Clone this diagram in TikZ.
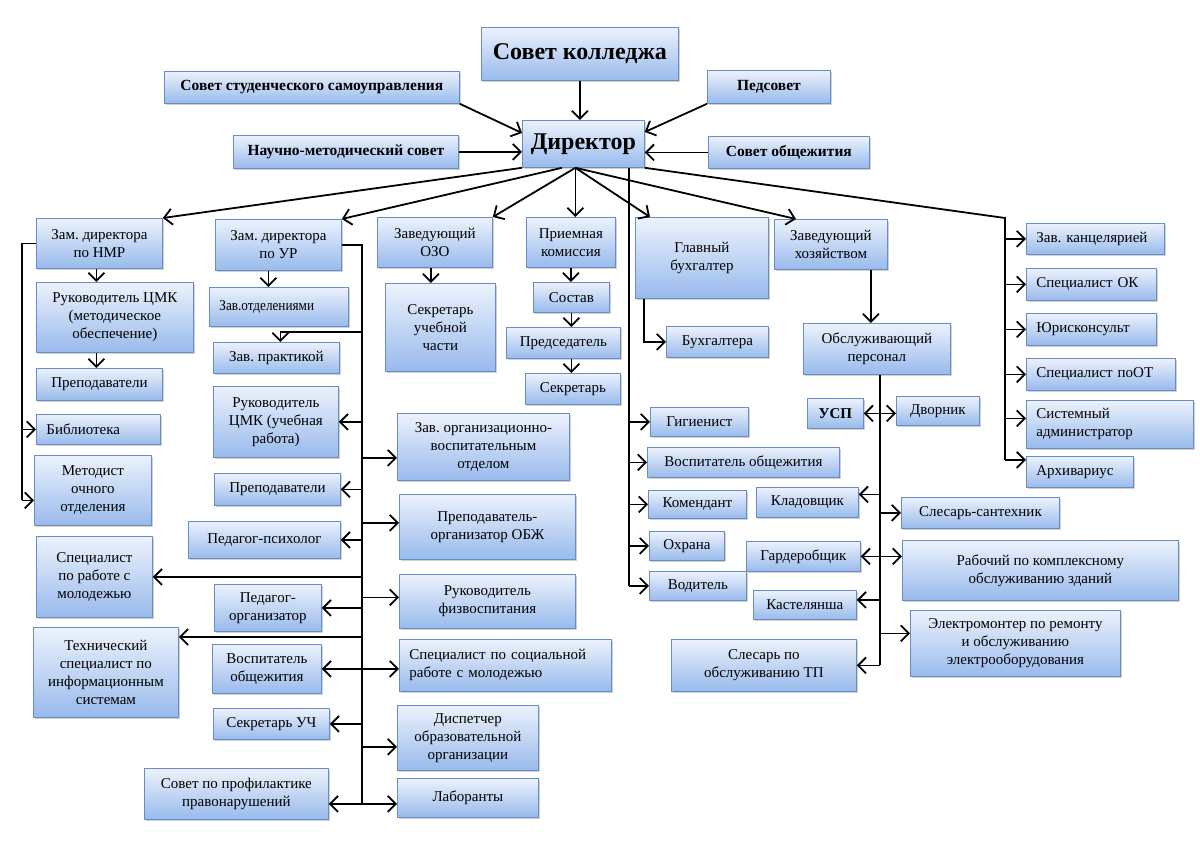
\documentclass[tikz,border=0pt]{standalone}
\usepackage{fontspec}
\setmainfont{Liberation Serif}
\usepackage{graphicx}
\usepackage{tikz}
\usetikzlibrary{arrows.meta,shadows}
\frenchspacing

\definecolor{boxtop}{RGB}{236,242,252}
\definecolor{boxbot}{RGB}{152,186,236}
\definecolor{boxline}{RGB}{105,140,195}

\begin{document}
\begin{tikzpicture}[
    x=1pt, y=-1pt,
    box/.style={rectangle, draw=boxline, line width=0.8pt, top color=boxtop, bottom color=boxbot, anchor=north west, align=center, inner sep=2pt, font=\fontsize{15}{18}\selectfont, drop shadow={shadow xshift=1.5pt, shadow yshift=-1.5pt, opacity=0.35}},
    lbox/.style={box, align=left, inner xsep=10pt},
    head/.style={box, font=\bfseries\fontsize{15.5}{18}\selectfont},
    big/.style={box, font=\bfseries\fontsize{24}{28}\selectfont},
    link/.style={line width=1.8pt},
    arrow/.style={link, -{Straight Barb[length=8pt, width=16pt]}},
    darrow/.style={link, {Straight Barb[length=8pt, width=16pt]}-{Straight Barb[length=8pt, width=16pt]}}
]
    \path[use as bounding box, fill=white] (0,0) rectangle (1200,849);

    % Top
    \node[big, minimum width=197, minimum height=53] (kolledzh) at (481,27) {Совет колледжа};
    \node[head, minimum width=295, minimum height=32] (stud) at (164,71) {Совет студенческого самоуправления};
    \node[head, minimum width=123, minimum height=33] (pedsovet) at (707,70) {Педсовет};
    \node[head, minimum width=225, minimum height=33] (nms) at (233,135) {Научно-методический совет};
    \node[big, minimum width=122, minimum height=47] (director) at (522,120) {Директор};
    \node[head, minimum width=161, minimum height=32] (obshch) at (708,136) {Совет общежития};

    % Second level
    \node[box, minimum width=126, minimum height=50] (nmr) at (36,218) {Зам. директора\\по НМР};
    \node[box, minimum width=126, minimum height=51] (ur) at (215,219) {Зам. директора\\по УР};
    \node[box, minimum width=115, minimum height=50] (ozo) at (377,217) {Заведующий\\ОЗО};
    \node[box, minimum width=89, minimum height=50] (priem) at (526,217) {Приемная\\комиссия};
    \node[box, minimum width=133, minimum height=81] (buh) at (635,217) {Главный\\бухгалтер};
    \node[box, minimum width=113, minimum height=50] (hoz) at (774,219) {Заведующий\\хозяйством};

    % NMR column
    \node[box, minimum width=157, minimum height=70] (cmkm) at (36,282) {Руководитель ЦМК\\(методическое\\обеспечение)};
    \node[box, minimum width=126, minimum height=32] (prepn) at (36,368) {Преподаватели};
    \node[lbox, text width=104, minimum height=30] (bibl) at (36,414) {Библиотека};
    \node[box, minimum width=117, minimum height=70] (metod) at (34,455) {Методист\\очного\\отделения};
    \node[box, minimum width=116, minimum height=81] (spmol) at (36,536) {Специалист\\по работе с\\молодежью};
    \node[box, minimum width=145, minimum height=90] (tech) at (33,627) {Технический\\специалист по\\информационным\\системам};

    % UR column
    \node[lbox, text width=119, minimum height=39] (zavotd) at (209,287) {\scalebox{0.88}[1]{Зав.отделениями}};
    \node[box, minimum width=126, minimum height=31] (zavpr) at (213,342) {Зав. практикой};
    \node[box, minimum width=125, minimum height=71] (cmku) at (213,386) {Руководитель\\ЦМК (учебная\\работа)};
    \node[box, minimum width=126, minimum height=32] (prepu) at (214,473) {Преподаватели};
    \node[box, minimum width=152, minimum height=37] (psych) at (188,521) {Педагог-психолог};
    \node[box, minimum width=107, minimum height=47] (pedorg) at (214,584) {Педагог-\\организатор};
    \node[box, minimum width=109, minimum height=49] (vosp) at (212,644) {Воспитатель\\общежития};
    \node[box, minimum width=116, minimum height=31] (sekruch) at (213,708) {Секретарь УЧ};
    \node[box, minimum width=184, minimum height=51] (sovprof) at (144,768) {Совет по профилактике\\правонарушений};

    \node[box, minimum width=172, minimum height=67] (orgvosp) at (397,413) {Зав. организационно-\\воспитательным\\отделом};
    \node[box, minimum width=176, minimum height=65] (obzh) at (399,494) {Преподаватель-\\организатор ОБЖ};
    \node[box, minimum width=176, minimum height=54] (fizv) at (399,574) {Руководитель\\физвоспитания};
    \node[lbox, text width=192, minimum height=52] (socr) at (399,639) {\mbox{Специалист по социальной}\\\mbox{работе с молодежью}};
    \node[box, minimum width=141, minimum height=65] (disp) at (397,705) {Диспетчер\\образовательной\\организации};
    \node[box, minimum width=141, minimum height=39] (lab) at (397,778) {Лаборанты};

    % Middle
    \node[box, minimum width=110, minimum height=88] (sekrch) at (385,283) {Секретарь\\учебной\\части};
    \node[box, minimum width=76, minimum height=30] (sostav) at (533,282) {Состав};
    \node[box, minimum width=114, minimum height=31] (pred) at (506,327) {Председатель};
    \node[box, minimum width=95, minimum height=31] (sekr) at (525,373) {Секретарь};
    \node[box, minimum width=102, minimum height=31] (buhs) at (666,326) {Бухгалтера};
    \node[box, minimum width=98, minimum height=29] (gig) at (650,407) {Гигиенист};
    \node[box, minimum width=192, minimum height=30] (vospo) at (647,447) {Воспитатель общежития};
    \node[box, minimum width=98, minimum height=28] (kom) at (648,490) {Комендант};
    \node[box, minimum width=75, minimum height=29] (ohr) at (649,531) {Охрана};
    \node[box, minimum width=97, minimum height=29] (vod) at (649,571) {Водитель};

    % Hoz column
    \node[box, minimum width=147, minimum height=51] (obsl) at (803,323) {Обслуживающий\\персонал};
    \node[box, minimum width=56, minimum height=30, font=\bfseries\fontsize{15}{18}\selectfont] (usp) at (807,398) {УСП};
    \node[box, minimum width=83, minimum height=29] (dvor) at (896,396) {Дворник};
    \node[box, minimum width=102, minimum height=30] (klad) at (756,487) {Кладовщик};
    \node[box, minimum width=158, minimum height=31] (santeh) at (901,497) {Слесарь-сантехник};
    \node[box, minimum width=114, minimum height=30] (gard) at (746,541) {Гардеробщик};
    \node[box, minimum width=276, minimum height=60] (rab) at (902,540) {Рабочий по комплексному\\обслуживанию зданий};
    \node[box, minimum width=103, minimum height=29] (kast) at (753,590) {Кастелянша};
    \node[box, minimum width=210, minimum height=66] (elmont) at (910,610) {Электромонтер по ремонту\\и обслуживанию\\электрооборудования};
    \node[box, minimum width=185, minimum height=52] (slestp) at (671,639) {Слесарь по\\обслуживанию ТП};

    % Right column
    \node[lbox, text width=118, minimum height=31] (kanc) at (1026,223) {\mbox{Зав. канцелярией}};
    \node[lbox, text width=110, minimum height=32] (spok) at (1026,268) {\mbox{Специалист ОК}};
    \node[lbox, text width=110, minimum height=32] (jur) at (1026,313) {Юрисконсульт};
    \node[lbox, text width=129, minimum height=32] (spot) at (1026,358) {\mbox{Специалист поОТ}};
    \node[lbox, text width=147, minimum height=48] (sysad) at (1026,400) {Системный\\администратор};
    \node[lbox, text width=87, minimum height=31] (arch) at (1026,456) {Архивариус};

    % Arrows to director
    \draw[arrow] (kolledzh.south) -- (kolledzh.south |- director.north);
    \draw[arrow] (stud.south east) -- ([yshift=-13pt]director.north west);
    \draw[arrow] (pedsovet.south west) -- ([yshift=-12pt]director.north east);
    \draw[arrow] (nms.east) -- (nms.east -| director.west);
    \draw[arrow] (obshch.west) -- (obshch.west -| director.east);

    % From director
    \coordinate (fan) at ([xshift=-8pt]director.south);
    \coordinate (mtrunk) at ([xshift=-16pt]director.south east);
    \coordinate (rtrunk) at (1005,218);
    \draw[arrow] (director.south west) -- (nmr.north east);
    \draw[arrow] ([xshift=40pt]director.south west) -- (ur.north east);
    \draw[arrow] (fan) -- (ozo.north east);
    \draw[arrow] (fan) -- (fan |- priem.north);
    \draw[arrow] (fan) -- ([xshift=15pt]buh.north west);
    \draw[arrow] (fan) -- ([xshift=22pt]hoz.north west);
    \draw[link] (director.south east) -- (rtrunk) -- ([yshift=12pt]rtrunk |- arch.west);
    \draw[link] (mtrunk) -- (mtrunk |- vod.west);

    % Right column
    \draw[arrow] (rtrunk |- kanc.west) -- (kanc.west);
    \draw[arrow] (rtrunk |- spok.west) -- (spok.west);
    \draw[arrow] (rtrunk |- jur.west) -- (jur.west);
    \draw[arrow] (rtrunk |- spot.west) -- (spot.west);
    \draw[arrow] ([yshift=6pt]rtrunk |- sysad.west) -- ([yshift=6pt]sysad.west);
    \draw[arrow] ([yshift=12pt]rtrunk |- arch.west) -- ([yshift=12pt]arch.west);

    % Middle trunk
    \draw[arrow] (mtrunk |- gig.west) -- (gig.west);
    \draw[arrow] (mtrunk |- vospo.west) -- (vospo.west);
    \draw[arrow] (mtrunk |- kom.west) -- (kom.west);
    \draw[arrow] (mtrunk |- ohr.west) -- (ohr.west);
    \draw[arrow] (mtrunk |- vod.west) -- (vod.west);
    \draw[arrow] ([xshift=9pt]buh.south west) |- (buhs.west);

    % NMR
    \draw[arrow] ([xshift=-3pt]nmr.south) -- ([xshift=-3pt]nmr.south |- cmkm.north);
    \draw[arrow] ([xshift=-3pt]prepn.north |- cmkm.south) -- ([xshift=-3pt]prepn.north);
    \coordinate (ltrunk) at ([xshift=-14pt]nmr.west);
    \draw[link] (nmr.west) -- (ltrunk) -- ([yshift=-10pt]ltrunk |- metod.west);
    \draw[arrow] (ltrunk |- bibl.west) -- (bibl.west);
    \draw[arrow] ([yshift=-10pt]ltrunk |- metod.west) -- ([yshift=-10pt]metod.west);

    % UR
    \draw[arrow] ([xshift=-10pt]ur.south) -- ([xshift=-10pt]ur.south |- zavotd.north);
    \coordinate (utrunk) at ([xshift=20pt]ur.east);
    \draw[link] (ur.east) -- (utrunk) -- ([yshift=-10pt]utrunk |- sovprof.east);
    \draw[arrow] ([yshift=10pt]utrunk |- zavpr.north) -| ([xshift=4pt]zavpr.north);
    \draw[arrow] (utrunk |- cmku.east) -- (cmku.east);
    \draw[arrow] (utrunk |- prepu.east) -- (prepu.east);
    \draw[arrow] (utrunk |- psych.east) -- (psych.east);
    \draw[arrow] (utrunk |- spmol.east) -- (spmol.east);
    \draw[arrow] (utrunk |- pedorg.east) -- (pedorg.east);
    \draw[arrow] ([yshift=-10pt]utrunk |- tech.north east) -- ([yshift=-10pt]tech.north east);
    \draw[darrow] (vosp.east) -- (vosp.east -| socr.west);
    \draw[arrow] (utrunk |- sekruch.east) -- (sekruch.east);
    \draw[darrow] ([yshift=-10pt]sovprof.east) -- ([yshift=-10pt]sovprof.east -| lab.west);
    \draw[arrow] ([yshift=-11pt]utrunk |- orgvosp.west) -- ([yshift=-11pt]orgvosp.west);
    \draw[arrow] ([yshift=4pt]utrunk |- obzh.west) -- ([yshift=4pt]obzh.west);
    \draw[arrow] ([yshift=4pt]utrunk |- fizv.west) -- ([yshift=4pt]fizv.west);
    \draw[arrow] ([yshift=-9pt]utrunk |- disp.west) -- ([yshift=-9pt]disp.west);

    % OZO and commission
    \draw[arrow] ([xshift=-4pt]ozo.south) -- ([xshift=-4pt]ozo.south |- sekrch.north);
    \draw[arrow] (priem.south) -- (priem.south |- sostav.north);
    \draw[arrow] (sostav.south) -- (sostav.south |- pred.north);
    \draw[arrow] (sostav.south |- pred.south) -- (sostav.south |- sekr.north);

    % Hoz
    \draw[arrow] ([xshift=40pt]hoz.south) -- ([xshift=40pt]hoz.south |- obsl.north);
    \coordinate (htrunk) at ([xshift=3pt]obsl.south);
    \draw[link] (htrunk) -- (htrunk |- slestp.east);
    \draw[darrow] (usp.east) -- (usp.east -| dvor.west);
    \draw[arrow] ([yshift=8pt]htrunk |- klad.east) -- ([yshift=8pt]klad.east);
    \draw[arrow] (htrunk |- santeh.west) -- (santeh.west);
    \draw[darrow] (gard.east) -- (gard.east -| rab.west);
    \draw[arrow] ([yshift=5pt]htrunk |- kast.east) -- ([yshift=5pt]kast.east);
    \draw[arrow] ([yshift=10pt]htrunk |- elmont.west) -- ([yshift=10pt]elmont.west);
    \draw[arrow] (htrunk |- slestp.east) -- (slestp.east);
\end{tikzpicture}
\end{document}
